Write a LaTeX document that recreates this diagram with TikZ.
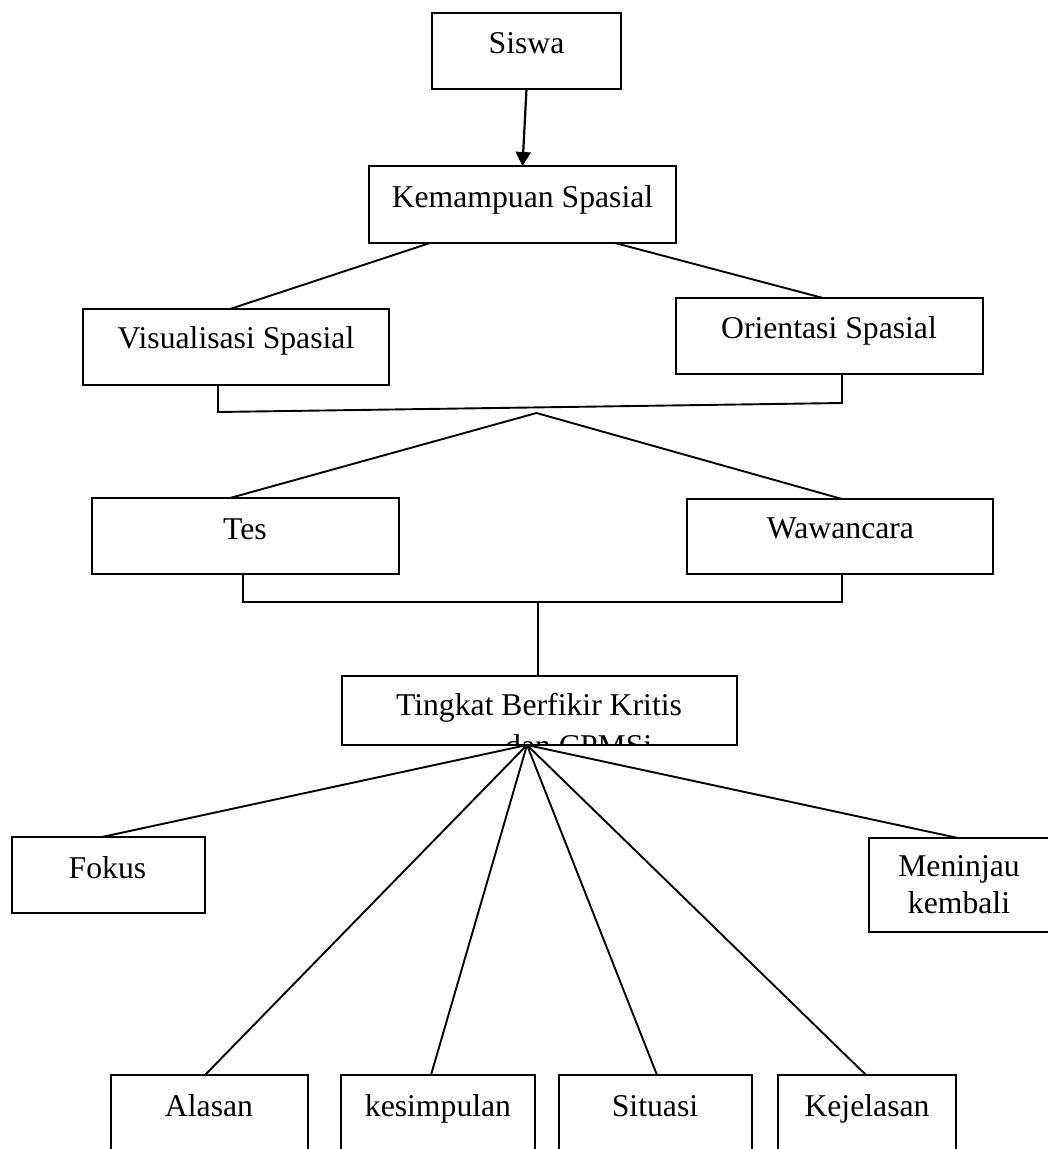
\documentclass[tikz,border=0pt]{standalone}
\usepackage{fontspec}
\setmainfont{Liberation Serif}
\usetikzlibrary{arrows.meta}
\begin{document}
\begin{tikzpicture}[x=1pt,y=-1pt,
  box/.style={draw, line width=1.9pt, inner sep=0pt, outer sep=0pt},
  txt/.style={inner sep=0pt, anchor=base, font=\fontsize{31.7}{38}\selectfont},
  conn/.style={line width=1.9pt},
  arr/.style={line width=2.2pt, -{Triangle[length=14pt,width=15pt]}}]
\useasboundingbox (0,0) rectangle (1048,1149);
% boxes
\node[box, minimum width=189pt, minimum height=76pt] (siswa) at (526.5,51) {};
\node[box, minimum width=307pt, minimum height=77pt] (kemampuan) at (522.5,204.5) {};
\node[box, minimum width=306pt, minimum height=76pt] (visual) at (236,347) {};
\node[box, minimum width=307pt, minimum height=76pt] (orient) at (829.5,336) {};
\node[box, minimum width=307pt, minimum height=76pt] (tes) at (245.5,536) {};
\node[box, minimum width=306pt, minimum height=75pt] (waw) at (840,536.5) {};
\node[box, minimum width=395pt, minimum height=69pt] (tingkat) at (539.5,710.5) {};
\node[box, minimum width=193pt, minimum height=76pt] (fokus) at (108.5,875) {};
\node[box, minimum width=181pt, minimum height=94pt] (meninjau) at (959.5,885) {};
\node[box, minimum width=197pt, minimum height=85pt] (alasan) at (209.5,1117.5) {};
\node[box, minimum width=194pt, minimum height=85pt] (kesimpulan) at (438,1117.5) {};
\node[box, minimum width=193pt, minimum height=85pt] (situasi) at (655.5,1117.5) {};
\node[box, minimum width=178pt, minimum height=85pt] (kejelasan) at (867,1117.5) {};
% texts
\node[txt] (siswa-t) at (526.5,53) {Siswa};
\node[txt] (kemampuan-t) at (522.5,207) {Kemampuan Spasial};
\node[txt] (visual-t) at (236,348) {Visualisasi Spasial};
\node[txt] (orient-t) at (829,338) {Orientasi Spasial};
\node[txt] (tes-t) at (245,539) {Tes};
\node[txt] (waw-t) at (840.5,538) {Wawancara};
\node[txt] (tingkat-t) at (539,715) {Tingkat Berfikir Kritis};
\begin{scope}
\clip (343,677) rectangle (736,743.5);
\node[txt, anchor=base west] (tingkat-t2) at (505,756) {dan CPMSi};
\end{scope}
\node[txt] (fokus-t) at (107.5,878) {Fokus};
\node[txt] (meninjau-t1) at (959,876) {Meninjau};
\node[txt] (meninjau-t2) at (959,913) {kembali};
\node[txt] (alasan-t) at (209,1116) {Alasan};
\node[txt] (kesimpulan-t) at (438,1116) {kesimpulan};
\node[txt] (situasi-t) at (655,1116) {Situasi};
\node[txt] (kejelasan-t) at (867,1116) {Kejelasan};
% helper coordinates
\coordinate (vl) at (218,412);
\coordinate (vr) at (842,403);
\coordinate (peak) at (536.5,413);
\coordinate (tl) at (243,602);
\coordinate (tr) at (842,602);
\coordinate (tm) at (538,602);
\coordinate (hub) at (527,745);
% connectors
\draw[arr] (siswa.south) -- (kemampuan.north);
\draw[conn] ([xshift=-92.5pt]kemampuan.south) -- ([xshift=-6pt]visual.north);
\draw[conn] ([xshift=92.5pt]kemampuan.south) -- ([xshift=-6.5pt]orient.north);
\draw[conn] ([xshift=-18pt]visual.south) -- (vl) -- (vr) -- ([xshift=12.5pt]orient.south);
\draw[conn] ([xshift=-15.5pt]tes.north) -- (peak) -- ([xshift=2pt]waw.north);
\draw[conn] ([xshift=-2.5pt]tes.south) -- (tl) -- (tr) -- ([xshift=2pt]waw.south);
\draw[conn] (tm) -- ([xshift=-1.5pt]tingkat.north);
\draw[conn] (hub) -- ([xshift=-6.5pt]fokus.north);
\draw[conn] (hub) -- ([xshift=-4.5pt]alasan.north);
\draw[conn] (hub) -- ([xshift=-7pt]kesimpulan.north);
\draw[conn] (hub) -- ([xshift=1.5pt]situasi.north);
\draw[conn] (hub) -- ([xshift=-1pt]kejelasan.north);
\draw[conn] (hub) -- ([xshift=-1.5pt]meninjau.north);
\end{tikzpicture}
\end{document}
